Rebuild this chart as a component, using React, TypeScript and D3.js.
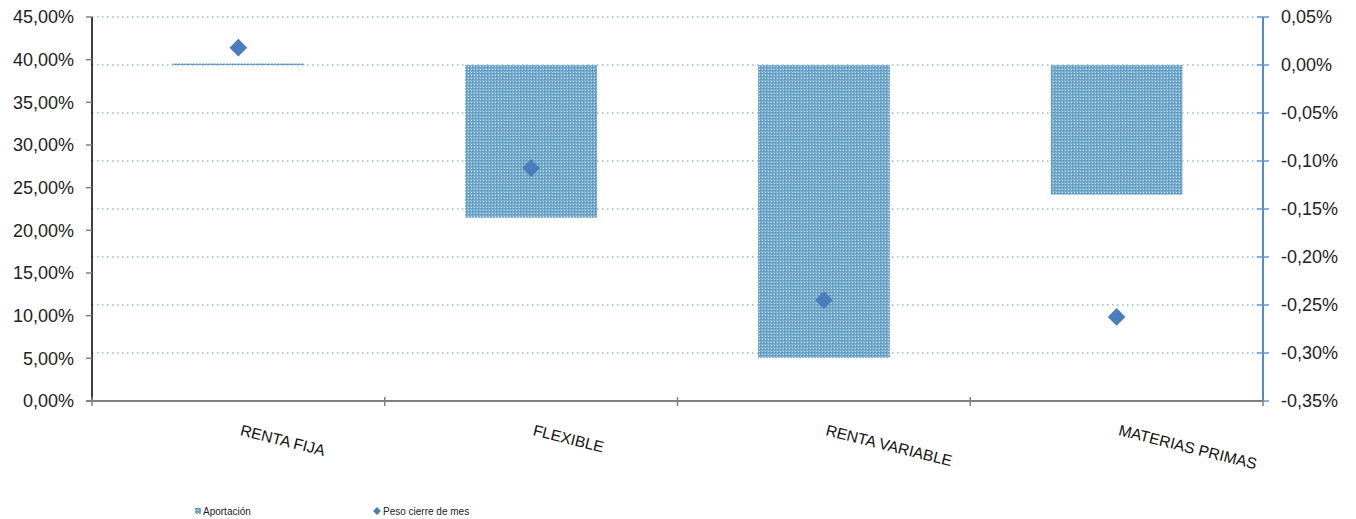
import React from "react";
import * as d3 from "d3";

const categories = ["RENTA FIJA", "FLEXIBLE", "RENTA VARIABLE", "MATERIAS PRIMAS"];
const aportacion = [0.0015, -0.159, -0.305, -0.135]; // % (right axis)
const peso = [41.4, 27.3, 11.85, 9.85]; // % (left axis)
const leftTicks = [0, 5, 10, 15, 20, 25, 30, 35, 40, 45];
const rightTicks = [-0.35, -0.3, -0.25, -0.2, -0.15, -0.1, -0.05, 0, 0.05];

const W = 1356;
const H = 519;
const M = { left: 92, right: 1263, top: 17, bottom: 401 };

const fmt = (v: number, d: number) => v.toFixed(d).replace(".", ",") + "%";

export default function App() {
  const x = d3.scaleBand<string>().domain(categories).range([M.left, M.right]).paddingInner(0.55).paddingOuter(0.275);
  const xOuter = d3.scaleBand<string>().domain(categories).range([M.left, M.right]);
  const yL = d3.scaleLinear().domain([0, 45]).range([M.bottom, M.top]);
  const yR = d3.scaleLinear().domain([-0.35, 0.05]).range([M.bottom, M.top]);
  const font = "'Liberation Sans', Arial, sans-serif";
  const diamond = d3.symbol().type(d3.symbolDiamond2).size(200)();
  const diamondSmall = d3.symbol().type(d3.symbolDiamond2).size(40)();

  return (
    <svg width={W} height={H} style={{ position: "absolute", left: 0, top: 0, background: "#fff" }} fontFamily={font}>
      <defs>
        <pattern id="chk" width={3} height={3} patternUnits="userSpaceOnUse">
          <rect width={3} height={3} fill="#6ea7cb" />
          <rect x={0} y={0} width={1} height={1} fill="#d3e5f1" />
          <rect x={1} y={1} width={1} height={1} fill="#528fbd" />
          <rect x={2} y={2} width={1} height={1} fill="#8fbcda" />
        </pattern>
      </defs>

      {/* gridlines (right axis) */}
      {rightTicks.filter((t) => t > -0.349).map((t) => (
        <line key={"g" + t} x1={M.left} x2={M.right} y1={yR(t)} y2={yR(t)} stroke="#5b8fd0" strokeWidth={1} strokeDasharray="1.5,3.5" />
      ))}

      {/* bars */}
      {categories.map((c, i) => {
        const v = aportacion[i];
        const y0 = yR(0);
        const y1 = yR(v);
        const top = Math.min(y0, y1);
        const h = Math.max(Math.abs(y1 - y0), 1.5);
        return <rect key={c} x={x(c)} y={v > 0 ? y0 - h : top} width={x.bandwidth()} height={h} fill="url(#chk)" />;
      })}

      {/* diamonds */}
      {categories.map((c, i) => (
        <path key={"d" + c} d={diamond!} transform={`translate(${(xOuter(c) ?? 0) + xOuter.bandwidth() / 2},${yL(peso[i])})`} fill="#4a7dbd" />
      ))}

      {/* left axis */}
      <line x1={M.left} x2={M.left} y1={M.top} y2={M.bottom} stroke="#000" strokeWidth={1.5} />
      {leftTicks.map((t) => (
        <g key={"l" + t}>
          <line x1={M.left - 6} x2={M.left} y1={yL(t)} y2={yL(t)} stroke="#808080" strokeWidth={1.5} />
          <text x={74} y={yL(t)} dy="0.36em" textAnchor="end" fontSize={18} fill="#222">{fmt(t, 2)}</text>
        </g>
      ))}

      {/* right axis */}
      <line x1={M.right} x2={M.right} y1={M.top} y2={M.bottom} stroke="#1a62bd" strokeWidth={1.5} />
      {rightTicks.map((t) => (
        <g key={"r" + t}>
          <line x1={M.right - 6} x2={M.right + 6} y1={yR(t)} y2={yR(t)} stroke="#5b9ad8" strokeWidth={1.5} />
          <text x={1281} y={yR(t)} dy="0.36em" textAnchor="start" fontSize={18} fill="#222">{fmt(t, 2)}</text>
        </g>
      ))}

      {/* bottom axis */}
      <line x1={M.left - 6} x2={M.right} y1={M.bottom} y2={M.bottom} stroke="#808080" strokeWidth={2} />
      {[...categories.map((c) => xOuter(c) ?? 0), M.right].map((px, i) => (
        <line key={"bt" + i} x1={px} x2={px} y1={M.bottom - 4} y2={M.bottom + 5} stroke="#808080" strokeWidth={1.5} />
      ))}
      {categories.map((c) => {
        const cx = (xOuter(c) ?? 0) + xOuter.bandwidth() / 2;
        return (
          <text key={"c" + c} x={0} y={0} transform={`translate(${cx + 1},${435}) rotate(14)`} fontSize={15.5} fill="#111">{c}</text>
        );
      })}

      {/* legend */}
      <rect x={195} y={508} width={6} height={6} fill="url(#chk)" />
      <text x={203} y={515} fontSize={10} fill="#222">Aportación</text>
      <path d={diamondSmall!} transform="translate(377,511)" fill="#4a7dbd" />
      <text x={383} y={515} fontSize={10} fill="#222">Peso cierre de mes</text>
    </svg>
  );
}
